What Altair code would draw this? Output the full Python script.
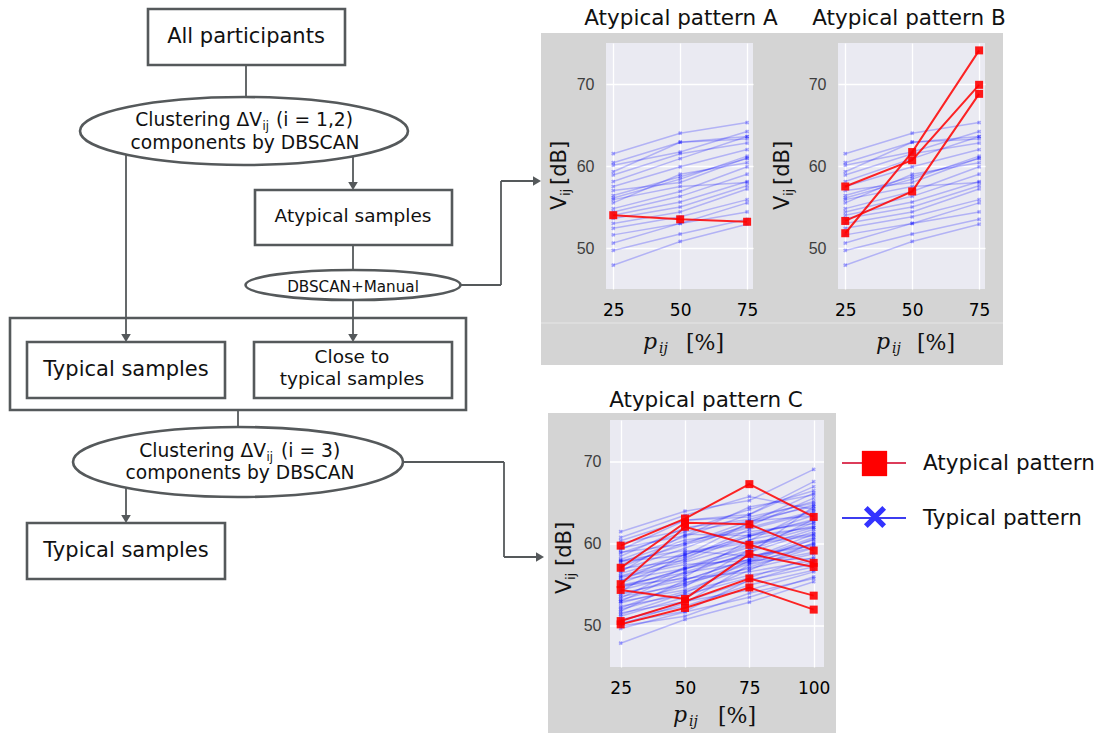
import altair as alt
import pandas as pd

# ------------------------------------------------------------------ data
P_AB = [25, 50, 75]
P_C = [25, 50, 75, 100]
Y_TICKS = [50, 60, 70]

TYPICAL_AB = [
    [61.5, 64.0, 65.3], [60.4, 62.9, 63.6], [60.1, 61.7, 64.2], [59.3, 62.9, 63.3],
    [58.9, 61.5, 62.8], [58.1, 60.9, 63.6], [57.5, 59.9, 62.0], [57.0, 58.0, 61.0],
    [56.4, 58.7, 60.9], [56.1, 58.4, 61.2], [55.9, 57.5, 58.0], [55.5, 59.0, 60.4],
    [54.8, 56.9, 59.9], [54.4, 56.3, 59.0], [54.0, 55.6, 58.1], [53.6, 55.0, 57.6],
    [53.0, 54.4, 57.2], [52.4, 53.8, 55.9], [51.6, 53.0, 55.5], [50.6, 53.0, 54.4],
    [49.7, 51.7, 53.5], [47.9, 50.8, 52.9],
]
ATYPICAL_A = [[54.0, 53.5, 53.2]]
ATYPICAL_B = [[57.5, 60.7, 69.9], [51.8, 61.7, 74.1], [53.3, 56.9, 68.8]]

TYPICAL_C = [
    [61.5, 64.0, 65.3, 69.1], [60.4, 62.9, 63.6, 67.6], [60.1, 61.7, 64.2, 66.5],
    [59.3, 62.9, 63.3, 65.0], [58.9, 61.5, 62.8, 64.6], [58.1, 60.9, 63.6, 67.0],
    [57.5, 59.9, 62.0, 64.0], [57.0, 58.0, 61.0, 63.0], [56.4, 58.7, 60.9, 63.5],
    [56.1, 58.4, 61.2, 62.8], [55.9, 57.5, 58.0, 60.5], [55.5, 59.0, 60.4, 64.3],
    [54.8, 56.9, 59.9, 62.0], [54.4, 56.3, 59.0, 61.5], [54.0, 55.6, 58.1, 60.8],
    [53.6, 55.0, 57.6, 60.0], [53.0, 54.4, 57.2, 59.5], [52.4, 53.8, 55.9, 58.4],
    [51.6, 53.0, 55.5, 57.8], [50.6, 53.0, 54.4, 56.6], [49.7, 51.7, 53.5, 56.0],
    [47.9, 50.8, 52.9, 55.4], [59.5, 61.0, 64.5, 66.0], [58.5, 62.0, 63.0, 65.2],
    [57.8, 60.5, 61.5, 62.5], [56.8, 59.5, 62.5, 64.8], [56.0, 57.8, 60.0, 61.0],
    [55.2, 58.2, 61.8, 63.8], [54.6, 57.0, 58.5, 59.8], [53.8, 56.0, 60.5, 62.2],
    [53.2, 55.3, 57.0, 58.8], [52.8, 54.8, 59.3, 61.8], [52.0, 54.2, 56.2, 57.5],
    [51.2, 53.5, 56.8, 60.2], [50.8, 52.4, 55.0, 56.8], [50.2, 52.8, 57.5, 59.0],
    [50.0, 51.2, 54.0, 55.8], [58.0, 59.2, 58.5, 60.0], [60.8, 63.5, 65.8, 64.2],
    [55.0, 56.5, 57.8, 59.6], [53.4, 57.2, 59.6, 62.6], [51.8, 55.6, 58.2, 61.2],
    [57.2, 60.2, 62.2, 65.6], [59.0, 60.0, 62.8, 63.4], [56.6, 61.2, 61.0, 62.0],
    [55.6, 57.0, 59.2, 63.0], [54.2, 58.8, 60.2, 61.2], [53.0, 56.6, 58.8, 64.6],
    [52.2, 55.2, 57.8, 60.6], [51.4, 54.0, 58.0, 58.2], [54.9, 55.8, 56.6, 58.0],
    [57.9, 58.6, 62.6, 66.2], [50.4, 51.8, 55.6, 57.2],
]
ATYPICAL_C = [
    [59.8, 63.1, 67.3, 63.3], [57.1, 62.6, 62.4, 59.2], [55.1, 62.1, 59.9, 57.7],
    [54.4, 53.3, 58.8, 57.2], [50.6, 53.0, 55.8, 53.7], [50.2, 52.2, 54.7, 52.0],
]

# ------------------------------------------------------------------ style / layout
GRAY = "#d4d4d4"
LAV = "#eaeaf2"
INK = "#55595b"
SANS = "DejaVu Sans"
SERIF = "DejaVu Serif"

PANELS = [(538, 772, 33, 365), (772, 1000, 33, 365), (545, 833, 413, 733)]
PLOTS = [(603, 750, 43, 289), (835, 982, 43, 289), (607, 821, 420, 667)]
SEPARATORS = [(538, 1000, 323, 323)]
BOXES = [(145, 342, 9, 65), (252, 449, 190, 245), (7, 463, 318, 410),
         (24, 222, 342, 398), (251, 449, 342, 398), (24, 222, 523, 579)]
ELLIPSES = [(241, 131, 328, 68), (350, 285, 215, 30), (235, 462, 330, 70)]
CONNECTORS = [
    (243, 65, 243, 97), (123, 155, 123, 336), (350, 156, 350, 184),
    (350, 245, 350, 270), (458, 285, 498, 285), (498, 285, 498, 181),
    (498, 181, 532, 181), (350, 300, 350, 336), (235, 410, 235, 427),
    (400, 462, 501, 462), (501, 462, 501, 557), (501, 557, 535, 557),
    (123, 488, 123, 517),
]
ARROWS_DOWN = [(123, 342), (350, 190), (350, 342), (123, 523)]
ARROWS_RIGHT = [(538, 181), (541, 557)]

TEXTS = [
    # text, x, y(baseline), size, align, font, style, angle
    ("All participants", 243, 43, 21, "center", SANS, "normal", 0),
    ("Clustering ΔV", 259, 126, 18.7, "right", SANS, "normal", 0),
    ("ij", 259.5, 130, 11.5, "left", SANS, "normal", 0),
    ("(i = 1,2)", 273, 126, 18.7, "left", SANS, "normal", 0),
    ("components by DBSCAN", 242, 149, 18.7, "center", SANS, "normal", 0),
    ("Atypical samples", 350, 222, 18.5, "center", SANS, "normal", 0),
    ("DBSCAN+Manual", 350, 292, 15.2, "center", SANS, "normal", 0),
    ("Typical samples", 123, 376, 21, "center", SANS, "normal", 0),
    ("Close to", 349, 363, 18.5, "center", SANS, "normal", 0),
    ("typical samples", 349, 385, 18.5, "center", SANS, "normal", 0),
    ("Clustering ΔV", 263, 457, 18.7, "right", SANS, "normal", 0),
    ("ij", 263.5, 461, 11.5, "left", SANS, "normal", 0),
    ("(i = 3)", 278, 457, 18.7, "left", SANS, "normal", 0),
    ("components by DBSCAN", 237, 479, 18.7, "center", SANS, "normal", 0),
    ("Typical samples", 123, 557, 21, "center", SANS, "normal", 0),
    # panel titles
    ("Atypical pattern A", 678, 25, 21.5, "center", SANS, "normal", 0),
    ("Atypical pattern B", 906, 25, 21.5, "center", SANS, "normal", 0),
    ("Atypical pattern C", 703, 407, 21.5, "center", SANS, "normal", 0),
    # y titles
    ("V", 563, 210, 21, "left", SANS, "normal", 270),
    ("ij", 567, 196, 13, "left", SANS, "normal", 270),
    ("[dB]", 563, 185, 21, "left", SANS, "normal", 270),
    ("V", 786, 210, 21, "left", SANS, "normal", 270),
    ("ij", 790, 196, 13, "left", SANS, "normal", 270),
    ("[dB]", 786, 185, 21, "left", SANS, "normal", 270),
    ("V", 568, 594, 21, "left", SANS, "normal", 270),
    ("ij", 572, 580, 13, "left", SANS, "normal", 270),
    ("[dB]", 568, 566, 21, "left", SANS, "normal", 270),
    # x titles
    ("p", 640, 349, 22, "left", SERIF, "italic", 0),
    ("ij", 656, 353, 14, "left", SERIF, "italic", 0),
    ("[%]", 683, 350, 22, "left", SERIF, "normal", 0),
    ("p", 873, 349, 22, "left", SERIF, "italic", 0),
    ("ij", 889, 353, 14, "left", SERIF, "italic", 0),
    ("[%]", 914, 350, 22, "left", SERIF, "normal", 0),
    ("p", 670, 722, 22, "left", SERIF, "italic", 0),
    ("ij", 686, 726, 14, "left", SERIF, "italic", 0),
    ("[%]", 715, 723, 22, "left", SERIF, "normal", 0),
    # legend
    ("Atypical pattern", 920, 470, 21.5, "left", SANS, "normal", 0),
    ("Typical pattern", 920, 525, 21.5, "left", SANS, "normal", 0),
]

FX = alt.Scale(domain=[0, 589], nice=False, zero=False)
FY = alt.Scale(domain=[43, 289], reverse=True, nice=False, zero=False)
NO_FRAME = alt.ViewBackground(stroke="transparent", strokeOpacity=0)


def fx(f):
    return alt.X(f, type="quantitative", scale=FX, axis=None)


def fy(f):
    return alt.Y(f, type="quantitative", scale=FY, axis=None)


def rect_layer(rows, **mk):
    df = pd.DataFrame(rows, columns=["x", "x2", "y", "y2"])
    return alt.Chart(df).mark_rect(**mk).encode(
        x=fx("x"), x2=alt.X2("x2"), y=fy("y"), y2=alt.Y2("y2"))


def seg_layer(rows, **mk):
    df = pd.DataFrame(rows, columns=["x", "y", "x2", "y2"])
    return alt.Chart(df).mark_rule(**mk).encode(
        x=fx("x"), x2=alt.X2("x2"), y=fy("y"), y2=alt.Y2("y2"))


def ellipse_path(k):
    c = 0.5523
    return (f"M -1 0 C -1 {-k*c:.4f} {-c:.4f} {-k:.4f} 0 {-k:.4f} "
            f"C {c:.4f} {-k:.4f} 1 {-k*c:.4f} 1 0 "
            f"C 1 {k*c:.4f} {c:.4f} {k:.4f} 0 {k:.4f} "
            f"C {-c:.4f} {k:.4f} -1 {k*c:.4f} -1 0 Z")


X_PATH = ("M -1 -0.2 L 1 -0.2 L 1 0.2 L -1 0.2 Z "
          "M -0.2 -1 L 0.2 -1 L 0.2 1 L -0.2 1 Z")

layers = []
# anchor for the canvas origin (invisible)
layers.append(rect_layer([(0, 1, 0, 1)], opacity=0))
layers.append(rect_layer(PANELS, color=GRAY))
layers.append(seg_layer([(a, c, b, d) for a, b, c, d in SEPARATORS], color="#e6e6e6", strokeWidth=1))
layers.append(rect_layer(PLOTS, color=LAV))
layers.append(rect_layer(BOXES, fill="white", stroke=INK, strokeWidth=2.6))
for cx, cy, w, h in ELLIPSES:
    layers.append(
        alt.Chart(pd.DataFrame({"x": [cx], "y": [cy]})).mark_point(
            shape=ellipse_path(h / w), size=w * w, filled=True, fill="white",
            stroke=INK, strokeWidth=2.6, opacity=1).encode(x=fx("x"), y=fy("y")))
layers.append(seg_layer(CONNECTORS, color=INK, strokeWidth=1.8))
layers.append(
    alt.Chart(pd.DataFrame(ARROWS_DOWN, columns=["x", "y"])).mark_point(
        shape="M 0 0 L -0.6 -1 L 0.6 -1 Z", size=256, filled=True, color=INK,
        opacity=1).encode(x=fx("x"), y=fy("y")))
layers.append(
    alt.Chart(pd.DataFrame(ARROWS_RIGHT, columns=["x", "y"])).mark_point(
        shape="M 0 0 L -1 -0.6 L -1 0.6 Z", size=256, filled=True, color=INK,
        opacity=1).encode(x=fx("x"), y=fy("y")))
# legend symbols
layers.append(seg_layer([(839, 463, 903, 463)], color="#dc3c5a", strokeWidth=2.2))
layers.append(seg_layer([(839, 518, 903, 518)], color="#3c3cf0", strokeWidth=2.2))
layers.append(
    alt.Chart(pd.DataFrame({"x": [871.5], "y": [463.5]})).mark_point(
        shape="square", size=640, filled=True, color="#ff0000", opacity=1).encode(
        x=fx("x"), y=fy("y")))
layers.append(
    alt.Chart(pd.DataFrame({"x": [872], "y": [517]})).mark_point(
        shape=X_PATH, size=676, angle=45, filled=True, color="#3333ff", opacity=1).encode(
        x=fx("x"), y=fy("y")))
for t, x, y, s, al, fnt, st, ang in TEXTS:
    mk = dict(text=t, align=al, baseline="alphabetic", font=fnt, fontSize=s,
              fontStyle=st, color="#111111")
    if ang:
        mk["angle"] = ang
    layers.append(
        alt.Chart(pd.DataFrame({"x": [x], "y": [y]})).mark_text(**mk).encode(
            x=fx("x"), y=fy("y")))

flow = alt.layer(*layers).properties(width=589, height=246, view=NO_FRAME)


# ------------------------------------------------------------------ panels
def long_df(rows, ps, tag):
    recs = []
    for i, r in enumerate(rows):
        for p, v in zip(ps, r):
            recs.append({"id": f"{tag}{i}", "p": p, "v": v})
    return pd.DataFrame(recs)


def panel(typ, atyp, ps, xdom, ydom, width, height, ylab_pad, rule_grid):
    xs = alt.Scale(domain=xdom, nice=False, zero=False)
    ys = alt.Scale(domain=ydom, nice=False, zero=False)
    xenc = alt.X("p:Q", scale=xs, axis=alt.Axis(
        values=ps, title=None, domain=False, ticks=False, grid=True,
        gridColor="white", gridWidth=1.3, labelFont=SANS, labelFontSize=17,
        labelColor="black", labelPadding=13, labelFlush=False, labelAngle=0))
    yenc = alt.Y("v:Q", scale=ys, axis=alt.Axis(
        values=Y_TICKS, title=None, domain=False, ticks=False, grid=not rule_grid,
        gridColor="white", gridWidth=1.3, labelFont="Liberation Sans",
        labelFontSize=16, labelColor="#3d3d3d", labelPadding=ylab_pad))
    lays = []
    if rule_grid:
        lays.append(alt.Chart(pd.DataFrame({"v": Y_TICKS})).mark_rule(
            color="white", strokeWidth=1.3).encode(
            y=yenc, x=alt.value(4), x2=alt.value(width)))
    tdf = long_df(typ, ps, "t")
    adf = long_df(atyp, ps, "a")
    lays.append(alt.Chart(tdf).mark_line(color="#0000ff", strokeWidth=1.5, opacity=0.24).encode(
        x=xenc, y=yenc, detail="id:N"))
    lays.append(alt.Chart(tdf).mark_point(shape="cross", angle=45, filled=True, size=18,
                                          color="#0000ff", opacity=0.32).encode(x=xenc, y=yenc))
    lays.append(alt.Chart(adf).mark_line(color="#ff0000", strokeWidth=2, opacity=0.85).encode(
        x=xenc, y=yenc, detail="id:N"))
    lays.append(alt.Chart(adf).mark_square(size=64, color="#ff0000", opacity=0.9).encode(
        x=xenc, y=yenc))
    return alt.layer(*lays).properties(width=width, height=height, view=NO_FRAME)


chart_a = panel(TYPICAL_AB, ATYPICAL_A, P_AB, [22.3, 77.2], [45, 75], 147, 246, 12, False)
chart_b = panel(TYPICAL_AB, ATYPICAL_B, P_AB, [22.3, 77.2], [45, 75], 147, 246, 12, False)
chart_c = panel(TYPICAL_C, ATYPICAL_C, P_C, [19.3, 104.0], [45, 75.12], 218, 247, 5, True)

blank = alt.Chart(pd.DataFrame({"x": [0]})).mark_point(opacity=0).encode(
    x=alt.value(0), y=alt.value(0)).properties(width=1, height=1, view=NO_FRAME)

chart = alt.concat(
    flow, chart_a, chart_b, blank, chart_c,
    columns=3, spacing=alt.RowColnumber(row=131, column=14),
    bounds="flush", align="each",
).properties(padding=0).configure_view(stroke="transparent", strokeOpacity=0).configure(
    background="white")

chart.save("out.html", embed_options={"renderer": "svg", "actions": False})
